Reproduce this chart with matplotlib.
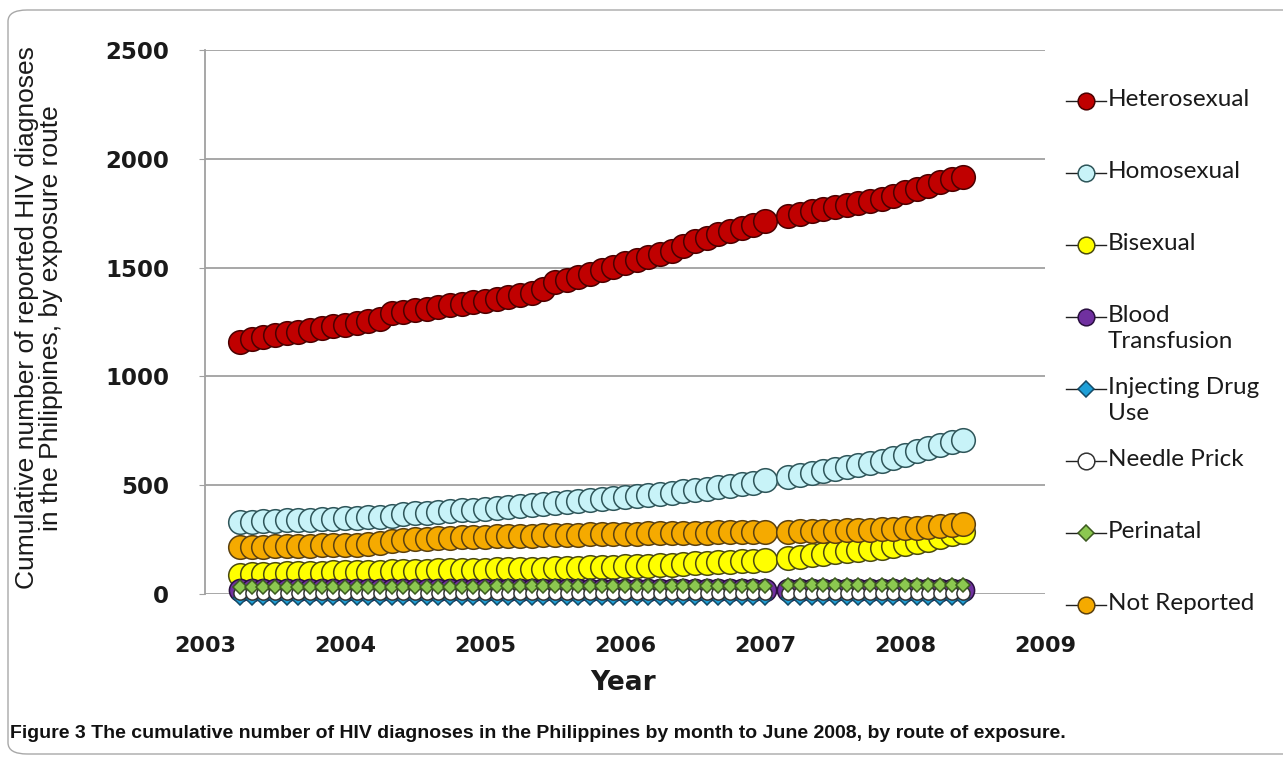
import numpy as np
import matplotlib
matplotlib.use("Agg")
import matplotlib.pyplot as plt
from matplotlib.lines import Line2D
from matplotlib.patches import FancyBboxPatch

# monthly reporting periods, Apr 2003 .. Jun 2008 (Feb 2007 not reported)
first_year, first_month, n_months = 2003, 4, 63

heterosexual = [1160, 1170, 1180, 1190, 1198, 1206, 1214, 1222, 1230, 1238,
                1246, 1255, 1265, 1290, 1298, 1305, 1312, 1320, 1327, 1334,
                1340, 1348, 1356, 1364, 1372, 1382, 1400, 1432, 1445, 1458,
                1470, 1490, 1505, 1520, 1535, 1550, 1562, 1575, 1598, 1620,
                1638, 1655, 1668, 1682, 1697, 1712, None, 1738, 1748, 1758,
                1768, 1778, 1788, 1795, 1805, 1815, 1830, 1848, 1862, 1877,
                1892, 1905, 1918]
homosexual = [330, 332, 334, 336, 338, 340, 342, 344, 346, 348,
              350, 352, 355, 360, 366, 370, 373, 376, 380, 384,
              388, 392, 396, 400, 404, 408, 412, 416, 421, 426,
              431, 436, 440, 445, 450, 455, 460, 466, 472, 478,
              484, 490, 497, 504, 512, 522, None, 538, 548, 558,
              567, 576, 585, 594, 603, 612, 624, 640, 658, 672,
              686, 698, 708]
bisexual = [88, 90, 92, 93, 95, 96, 97, 98, 99, 100,
            101, 102, 103, 104, 105, 106, 107, 108, 109, 110,
            111, 112, 113, 114, 115, 116, 117, 118, 120, 121,
            122, 124, 125, 127, 128, 130, 132, 135, 138, 142,
            144, 146, 148, 150, 153, 157, None, 166, 172, 180,
            186, 192, 197, 202, 207, 212, 220, 230, 240, 250,
            262, 274, 285]
blood_transfusion = [17, 17, 17, 17, 17, 17, 17, 17, 17, 17,
                     17, 17, 17, 17, 17, 17, 17, 17, 17, 17,
                     17, 18, 18, 18, 18, 18, 18, 18, 18, 18,
                     18, 18, 18, 18, 18, 18, 18, 18, 18, 18,
                     18, 18, 18, 18, 18, 18, None, 19, 19, 19,
                     19, 19, 19, 19, 19, 19, 19, 20, 20, 20,
                     20, 20, 20]
injecting_drug_use = [-20, -20, -20, -20, -20, -20, -20, -20, -20, -20,
                      -20, -20, -20, -20, -20, -20, -20, -20, -20, -20,
                      -20, -20, -20, -20, -20, -20, -20, -20, -20, -20,
                      -20, -20, -20, -20, -20, -20, -20, -20, -20, -20,
                      -20, -20, -20, -20, -20, -20, None, -20, -20, -20,
                      -20, -20, -20, -20, -20, -20, -20, -20, -20, -20,
                      -20, -20, -20]
needle_prick = [3, 3, 3, 3, 3, 3, 3, 3, 3, 3,
                3, 3, 3, 3, 3, 3, 3, 3, 3, 3,
                3, 3, 3, 3, 3, 3, 3, 3, 3, 3,
                3, 3, 3, 3, 3, 3, 3, 3, 3, 3,
                3, 3, 3, 3, 3, 3, None, 3, 3, 3,
                3, 3, 3, 3, 3, 3, 3, 3, 3, 3,
                3, 3, 3]
perinatal = [30, 30, 30, 31, 31, 31, 31, 32, 32, 32,
             32, 32, 33, 33, 33, 33, 33, 34, 34, 34,
             34, 34, 35, 35, 35, 35, 35, 36, 36, 36,
             36, 36, 37, 37, 37, 37, 37, 38, 38, 38,
             38, 38, 39, 39, 39, 39, None, 40, 40, 40,
             40, 40, 40, 41, 41, 41, 41, 41, 41, 42,
             42, 42, 42]
not_reported = [216, 217, 218, 219, 220, 221, 222, 223, 224, 225,
                226, 228, 236, 244, 248, 251, 254, 256, 258, 260,
                262, 264, 265, 266, 267, 268, 270, 271, 272, 273,
                274, 275, 276, 277, 278, 279, 280, 281, 281, 282,
                282, 283, 283, 284, 284, 285, None, 287, 288, 289,
                290, 291, 292, 294, 296, 298, 300, 302, 305, 308,
                312, 317, 322]

labels = ["Heterosexual", "Homosexual", "Bisexual", "Blood\nTransfusion",
          "Injecting Drug\nUse", "Needle Prick", "Perinatal", "Not Reported"]
series = [heterosexual, homosexual, bisexual, blood_transfusion,
          injecting_drug_use, needle_prick, perinatal, not_reported]

# marker, face, edge, size (pt)
styles = [
    ("o", "#C00000", "#4a0000", 17),
    ("o", "#C8F3F8", "#2e5559", 17),
    ("o", "#FFFF00", "#4a4a10", 17),
    ("o", "#7030A0", "#2a1040", 16),
    ("D", "#1E9FD7", "#154a66", 7.5),
    ("o", "#FFFFFF", "#333333", 9.5),
    ("D", "#8CC850", "#3c5a20", 7.5),
    ("o", "#F5AA00", "#5a4010", 17),
]

idx = np.arange(n_months)
x = first_year + (first_month - 1 + idx) / 12.0

plt.rcParams["font.family"] = ["Liberation Sans", "DejaVu Sans"]
fig = plt.figure(figsize=(12.83, 7.58), dpi=100)
ax = fig.add_axes([205 / 1283, 1 - 594 / 758, 840 / 1283, 544 / 758])

for vals, (mk, fc, ec, ms) in zip(series, styles):
    y = np.array([np.nan if v is None else v for v in vals], dtype=float)
    ax.plot(x, y, color="#202020", lw=1, marker=mk, ms=ms, mfc=fc, mec=ec,
            mew=1.1, clip_on=False)

ax.set_xlim(2003, 2009)
ax.set_ylim(0, 2500)
ax.set_yticks(np.arange(0, 2501, 500))
ax.set_xticks(np.arange(2003, 2010))
ax.grid(axis="y", color="#a0a0a0", lw=1.3)
ax.set_axisbelow(True)
for s in ["top", "right", "bottom"]:
    ax.spines[s].set_visible(False)
ax.spines["left"].set_color("#a0a0a0")
ax.spines["left"].set_linewidth(1.3)
ax.tick_params(axis="y", length=4, color="#a0a0a0", pad=22, labelsize=16.5)
ax.tick_params(axis="x", length=0, pad=30, labelsize=16)
for t in ax.get_xticklabels() + ax.get_yticklabels():
    t.set_fontweight("bold")
    t.set_family("DejaVu Sans")
    t.set_color("#1a1a1a")

fig.text(623 / 1283, 1 - 683 / 758, "Year", ha="center", va="center",
         fontsize=19, fontweight="bold", family="DejaVu Sans", color="#1a1a1a")
fig.text(39 / 1283, 1 - 318 / 758,
         "Cumulative number of reported HIV diagnoses\nin the Philippines, by exposure route",
         rotation=90, ha="center", va="center", fontsize=19,
         linespacing=1.0, color="#1a1a1a")

# legend drawn entry by entry so the row pitch stays constant
for i, (lab, (mk, fc, ec, ms)) in enumerate(zip(labels, styles)):
    yp = 1 - (101 + 72 * i) / 758
    fig.add_artist(Line2D([1066 / 1283, 1106 / 1283], [yp, yp],
                          transform=fig.transFigure, color="#202020", lw=1))
    fig.add_artist(Line2D([1086 / 1283], [yp], transform=fig.transFigure,
                          marker=mk, ms=12 if mk == "o" else 8.5, mfc=fc,
                          mec=ec, mew=1.1))
    fig.text(1108 / 1283, yp + 12 / 758, lab, ha="left", va="top",
             fontsize=17.5, family=["Lato", "DejaVu Sans"], color="#1a1a1a",
             linespacing=1.3)

fig.add_artist(FancyBboxPatch((8 / 1283, 4 / 758), 1.2, 1 - 14 / 758,
                              boxstyle="round,pad=0,rounding_size=0.015",
                              transform=fig.transFigure, fill=False,
                              ec="#a8a8a8", lw=1))

fig.text(10 / 1283, 1 - 733 / 758,
         "Figure 3 The cumulative number of HIV diagnoses in the Philippines "
         "by month to June 2008, by route of exposure.",
         ha="left", va="center", fontsize=14, fontweight="bold",
         family="Liberation Sans", color="#111111")

fig.savefig("out.png", dpi=100)
